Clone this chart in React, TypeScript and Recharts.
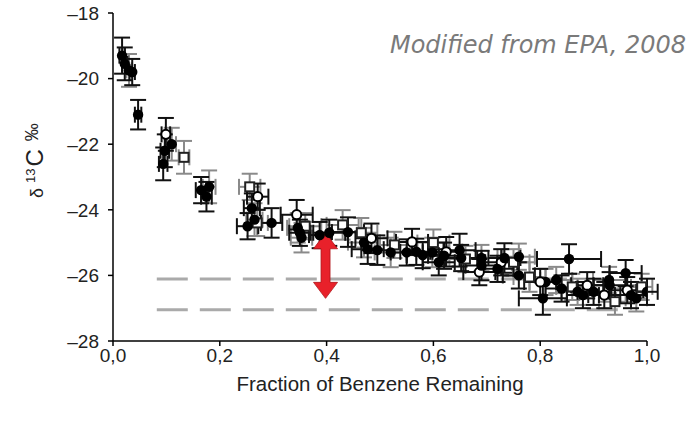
import React from 'react';
import { ScatterChart, Scatter, XAxis, YAxis, ErrorBar, ReferenceLine } from 'recharts';

// [fraction remaining, delta13C, xError, yError]
const filledBlack: [number, number, number, number][] = [
  [0.017, -19.3, 0.005, 0.55], [0.022, -19.55, 0.005, 0.5], [0.036, -19.8, 0.005, 0.4],
  [0.047, -21.1, 0.006, 0.45], [0.097, -22.2, 0.008, 0.5], [0.094, -22.6, 0.008, 0.5],
  [0.165, -23.4, 0.01, 0.4], [0.175, -23.6, 0.01, 0.45], [0.26, -23.95, 0.015, 0.45],
  [0.252, -24.5, 0.02, 0.4], [0.297, -24.4, 0.02, 0.45], [0.35, -24.7, 0.02, 0.4],
  [0.387, -24.77, 0.02, 0.4], [0.405, -24.7, 0.03, 0.4], [0.44, -24.68, 0.03, 0.45],
  [0.477, -25.2, 0.03, 0.45], [0.495, -25.23, 0.03, 0.45], [0.568, -25.28, 0.03, 0.4],
  [0.58, -25.38, 0.03, 0.4], [0.649, -25.23, 0.03, 0.5], [0.652, -25.47, 0.03, 0.4],
  [0.733, -25.47, 0.03, 0.45], [0.805, -26.7, 0.045, 0.5], [0.854, -25.5, 0.06, 0.45],
  [0.96, -25.93, 0.03, 0.4], [0.93, -26.3, 0.03, 0.4], [0.88, -26.6, 0.03, 0.4],
  [0.9, -26.5, 0.03, 0.4], [0.97, -26.6, 0.03, 0.4], [1.0, -26.5, 0.02, 0.4],
  [0.84, -26.4, 0.03, 0.4], [0.72, -25.8, 0.03, 0.4], [0.76, -26.0, 0.03, 0.4],
  [0.62, -25.4, 0.03, 0.4], [0.55, -25.3, 0.03, 0.4], [0.61, -25.6, 0.03, 0.4],
  [0.69, -25.7, 0.03, 0.45],
];

const openCircles: [number, number, number, number][] = [
  [0.099, -21.7, 0.008, 0.5], [0.271, -23.6, 0.02, 0.4], [0.344, -24.15, 0.03, 0.45],
  [0.484, -24.87, 0.03, 0.45], [0.56, -24.98, 0.03, 0.4], [0.624, -25.28, 0.03, 0.45],
  [0.686, -25.9, 0.03, 0.4], [0.727, -25.6, 0.03, 0.4], [0.888, -26.3, 0.03, 0.4],
  [0.963, -26.45, 0.03, 0.4], [0.8, -26.2, 0.03, 0.4], [0.92, -26.6, 0.03, 0.4],
];

const openSquares: [number, number, number, number][] = [
  [0.133, -22.4, 0.01, 0.5], [0.256, -23.3, 0.02, 0.4], [0.43, -24.46, 0.03, 0.45],
  [0.465, -24.7, 0.03, 0.45], [0.527, -25.07, 0.03, 0.4], [0.6, -25.0, 0.03, 0.4],
  [0.78, -26.05, 0.03, 0.45], [0.66, -25.5, 0.03, 0.4], [0.86, -26.35, 0.03, 0.4],
  [0.99, -26.35, 0.02, 0.4], [0.94, -26.8, 0.03, 0.4], [0.75, -25.6, 0.03, 0.4],
  [0.36, -24.5, 0.03, 0.4], [0.27, -24.4, 0.02, 0.4],
];

const filledGray: [number, number, number, number][] = [
  [0.11, -22.0, 0.008, 0.5], [0.03, -19.75, 0.005, 0.5], [0.18, -23.3, 0.012, 0.5],
  [0.265, -24.3, 0.015, 0.5], [0.346, -24.55, 0.02, 0.45], [0.353, -24.85, 0.02, 0.45],
  [0.598, -25.3, 0.03, 0.45], [0.69, -25.47, 0.03, 0.4], [0.76, -25.43, 0.03, 0.4],
  [0.81, -26.2, 0.03, 0.4], [0.83, -26.14, 0.03, 0.4], [0.929, -26.14, 0.03, 0.4],
  [0.87, -26.5, 0.03, 0.4], [0.98, -26.7, 0.02, 0.4], [0.47, -25.0, 0.03, 0.45],
  [0.52, -25.3, 0.03, 0.45],
];

const xTicks = [0, 0.2, 0.4, 0.6, 0.8, 1.0];
const yTicks = [-18, -20, -22, -24, -26, -28];

const upperDashed = { y: -26.11, x1: 0.082, x2: 0.85 };
const lowerDashed = { y: -27.05, x1: 0.082, x2: 0.95 };
const arrowSpan = { x: 0.398, yTop: -24.7, yBottom: -26.7 };

const toRows = (arr: [number, number, number, number][]) =>
  arr.map(([x, y, ex, ey]) => ({ x, y, ex, ey }));

const FilledCircle = (p: any) => <circle cx={p.cx} cy={p.cy} r={5.2} fill="#000" />;
const OpenCircle = (p: any) => <circle cx={p.cx} cy={p.cy} r={4.6} fill="#fff" stroke="#000" strokeWidth={2} />;
const OpenSquare = (p: any) => (
  <rect x={p.cx - 4.5} y={p.cy - 4.5} width={9} height={9} fill="#fff" stroke="#222" strokeWidth={2} />
);

const Arrow = (p: any) => {
  const { x1, y1, y2 } = p;
  const x = x1;
  const top = Math.min(y1, y2);
  const bot = Math.max(y1, y2);
  const hl = 16, hw = 12, sw = 4.5;
  const d = `M${x},${top} L${x + hw},${top + hl} L${x + sw},${top + hl} L${x + sw},${bot - hl} L${x + hw},${bot - hl} L${x},${bot} L${x - hw},${bot - hl} L${x - sw},${bot - hl} L${x - sw},${top + hl} L${x - hw},${top + hl} Z`;
  return <path d={d} fill="#e8212a" stroke="#b01418" strokeWidth={0.8} />;
};

const fmtX = (v: number) => v.toFixed(1).replace('.', ',');
const fmtY = (v: number) => `\u2013${Math.abs(v)}`;

const FONT = 'Liberation Sans, Arial, sans-serif';

// rotated label: starts at the bottom (y = 198) and runs upward, baseline at x = 43
const YLabel = () => (
  <text
    x={2}
    y={157}
    transform="rotate(-90, 43, 157)"
    textAnchor="start"
    fontFamily={FONT}
    fill="#222"
  >
    <tspan fontSize={18}>δ</tspan>
    <tspan fontSize={13} dx={5} dy={-8}>13</tspan>
    <tspan fontSize={24} dx={2} dy={8}>C</tspan>
    <tspan fontSize={18} dx={8} dy={-5}>‰</tspan>
  </text>
);

const errColorBlack = '#111';
const errColorGray = '#8a8a8a';

export default function App() {
  return (
    <div style={{ position: 'absolute', left: 0, top: 0, width: 694, height: 421, background: '#fff' }}>
      <ScatterChart width={694} height={421} margin={{ top: 13, right: 47, bottom: 0, left: 0 }}>
        <XAxis
          type="number"
          dataKey="x"
          domain={[0, 1]}
          allowDataOverflow
          ticks={xTicks}
          tickFormatter={fmtX}
          tickSize={5}
          tickMargin={3}
          height={80}
          stroke="#000"
          strokeWidth={1.5}
          tick={{ fill: '#222', fontSize: 19, fontFamily: FONT }}
          label={{
            value: 'Fraction of Benzene Remaining',
            position: 'insideBottom',
            offset: 30,
            fill: '#222',
            fontSize: 20.5,
            fontFamily: FONT,
          }}
        />
        <YAxis
          type="number"
          dataKey="y"
          domain={[-28, -18]}
          allowDataOverflow
          ticks={yTicks}
          tickFormatter={fmtY}
          tickSize={5}
          tickMargin={9}
          width={113}
          stroke="#000"
          strokeWidth={1.5}
          tick={{ fill: '#222', fontSize: 19, fontFamily: FONT }}
          label={<YLabel />}
        />
        <ReferenceLine
          segment={[{ x: upperDashed.x1, y: upperDashed.y }, { x: upperDashed.x2, y: upperDashed.y }]}
          stroke="#aaaaaa"
          strokeWidth={3}
          strokeDasharray="31 12"
        />
        <ReferenceLine
          segment={[{ x: lowerDashed.x1, y: lowerDashed.y }, { x: lowerDashed.x2, y: lowerDashed.y }]}
          stroke="#aaaaaa"
          strokeWidth={3}
          strokeDasharray="31 12"
        />
        <Scatter data={toRows(openSquares)} shape={OpenSquare} isAnimationActive={false}>
          <ErrorBar dataKey="ey" direction="y" stroke={errColorGray} strokeWidth={2} width={8} />
          <ErrorBar dataKey="ex" direction="x" stroke={errColorGray} strokeWidth={2} width={8} />
        </Scatter>
        <Scatter data={toRows(filledGray)} shape={FilledCircle} isAnimationActive={false}>
          <ErrorBar dataKey="ey" direction="y" stroke={errColorGray} strokeWidth={2} width={8} />
          <ErrorBar dataKey="ex" direction="x" stroke={errColorGray} strokeWidth={2} width={8} />
        </Scatter>
        <Scatter data={toRows(openCircles)} shape={OpenCircle} isAnimationActive={false}>
          <ErrorBar dataKey="ey" direction="y" stroke={errColorBlack} strokeWidth={2} width={8} />
          <ErrorBar dataKey="ex" direction="x" stroke={errColorBlack} strokeWidth={2} width={8} />
        </Scatter>
        <Scatter data={toRows(filledBlack)} shape={FilledCircle} isAnimationActive={false}>
          <ErrorBar dataKey="ey" direction="y" stroke={errColorBlack} strokeWidth={2} width={8} />
          <ErrorBar dataKey="ex" direction="x" stroke={errColorBlack} strokeWidth={2} width={8} />
        </Scatter>
        <ReferenceLine
          segment={[{ x: arrowSpan.x, y: arrowSpan.yTop }, { x: arrowSpan.x, y: arrowSpan.yBottom }]}
          shape={Arrow}
        />
      </ScatterChart>
      <div
        style={{
          position: 'absolute',
          right: 8,
          top: 33,
          fontFamily: 'DejaVu Sans, Verdana, sans-serif',
          fontStyle: 'italic',
          fontSize: 24,
          color: '#7a7a7a',
          whiteSpace: 'nowrap',
          lineHeight: 1,
        }}
      >
        Modified from EPA, 2008
      </div>
    </div>
  );
}
